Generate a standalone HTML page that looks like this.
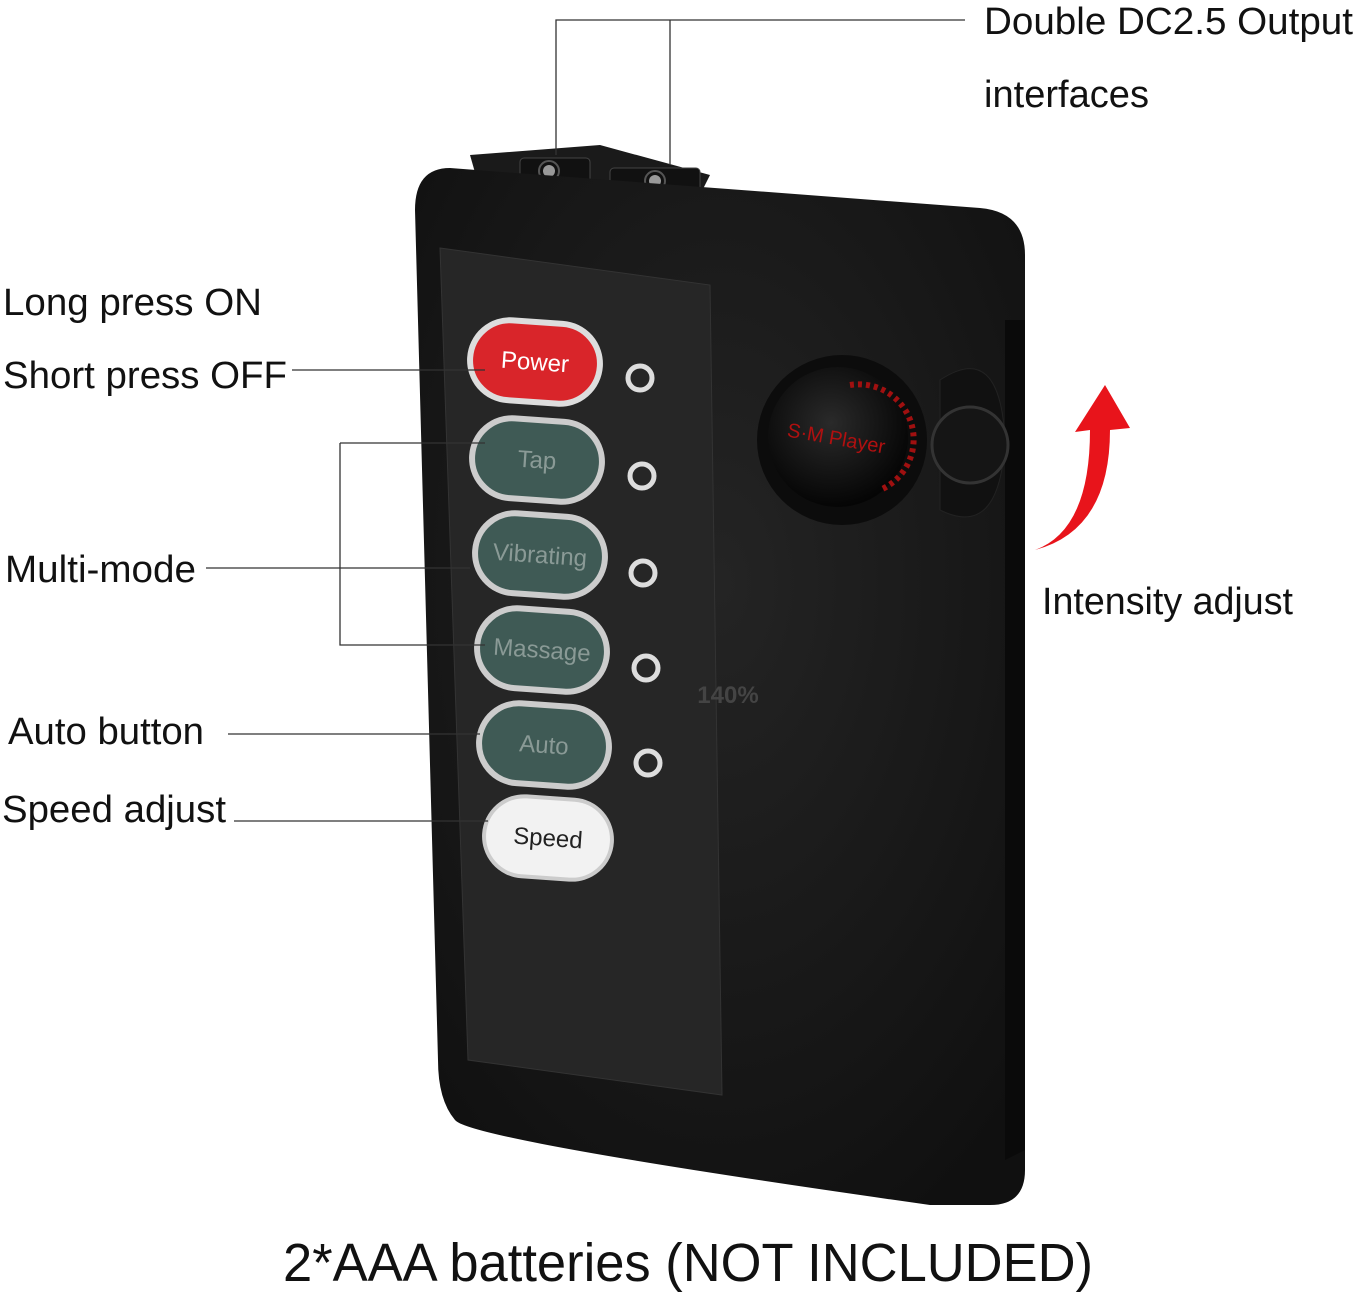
<!DOCTYPE html>
<html><head><meta charset="utf-8">
<style>
html,body{margin:0;padding:0;background:#fff;width:1357px;height:1295px;overflow:hidden}
svg{display:block}
text{font-family:"Liberation Sans",sans-serif}
</style></head><body>
<svg width="1357" height="1295" viewBox="0 0 1357 1295" xmlns="http://www.w3.org/2000/svg">
<defs>
<radialGradient id="body" cx="0.5" cy="0.4" r="0.7">
<stop offset="0" stop-color="#242424"/><stop offset="1" stop-color="#101010"/>
</radialGradient>
<radialGradient id="knob" cx="0.45" cy="0.4" r="0.6">
<stop offset="0" stop-color="#2a2a2a"/><stop offset="1" stop-color="#050505"/>
</radialGradient>
</defs>
<!-- top connectors -->
<path d="M470 155 L600 145 L710 175 L700 195 L480 190 Z" fill="#1a1a1a"/>
<rect x="520" y="158" width="70" height="30" rx="4" fill="#111" stroke="#444"/>
<rect x="610" y="168" width="90" height="30" rx="4" fill="#111" stroke="#444"/>
<circle cx="549" cy="171" r="6" fill="#999"/><circle cx="655" cy="181" r="6" fill="#999"/>
<circle cx="549" cy="171" r="10" fill="none" stroke="#555" stroke-width="2"/><circle cx="655" cy="181" r="10" fill="none" stroke="#555" stroke-width="2"/>
<!-- body -->
<path d="M450 168 L980 208 Q1025 212 1025 255 L1025 1170 Q1025 1205 990 1205 L930 1205 Q470 1140 455 1120 Q438 1100 438 1060 L415 210 Q415 168 450 168 Z" fill="url(#body)"/>
<path d="M1005 320 L1025 320 L1025 1150 L1005 1160 Z" fill="#0a0a0a"/>
<!-- panel -->
<path d="M440 248 L710 285 L722 1095 L468 1060 Z" fill="#262626" stroke="#333"/>
<!-- buttons -->
<g font-size="24" text-anchor="middle">
<g transform="rotate(4 535 362)"><rect x="470" y="322" width="130" height="80" rx="40" fill="#d9252a" stroke="#ddd" stroke-width="6"/><text x="535" y="370" fill="#fff">Power</text></g>
<g transform="rotate(4 537 460)"><rect x="472" y="420" width="130" height="80" rx="40" fill="#3f5a55" stroke="#ccc" stroke-width="6"/><text x="537" y="468" fill="#8a9a96">Tap</text></g>
<g transform="rotate(4 540 555)"><rect x="475" y="515" width="130" height="80" rx="40" fill="#3f5a55" stroke="#ccc" stroke-width="6"/><text x="540" y="563" fill="#8a9a96">Vibrating</text></g>
<g transform="rotate(4 542 650)"><rect x="477" y="610" width="130" height="80" rx="40" fill="#3f5a55" stroke="#ccc" stroke-width="6"/><text x="542" y="658" fill="#8a9a96">Massage</text></g>
<g transform="rotate(4 544 745)"><rect x="479" y="705" width="130" height="80" rx="40" fill="#3f5a55" stroke="#ccc" stroke-width="6"/><text x="544" y="753" fill="#8a9a96">Auto</text></g>
<g transform="rotate(4 548 838)"><rect x="484" y="798" width="128" height="80" rx="40" fill="#f2f2f2" stroke="#ccc" stroke-width="4"/><text x="548" y="846" fill="#222">Speed</text></g>
</g>
<g fill="none" stroke="#ddd" stroke-width="5">
<circle cx="640" cy="378" r="12"/><circle cx="642" cy="476" r="12"/><circle cx="643" cy="573" r="12"/><circle cx="646" cy="668" r="12"/><circle cx="648" cy="763" r="12"/>
</g>
<text x="728" y="703" font-size="24" font-weight="bold" fill="#444" text-anchor="middle">140%</text>
<!-- knob -->
<path d="M940 380 Q1000 340 1005 440 Q1000 540 940 510 Z" fill="#111" stroke="#222"/>
<circle cx="970" cy="445" r="38" fill="#151515" stroke="#333" stroke-width="3"/>
<circle cx="842" cy="440" r="85" fill="#0c0c0c"/>
<circle cx="838" cy="437" r="70" fill="url(#knob)"/>
<text x="836" y="445" font-size="20" fill="#b01010" text-anchor="middle" transform="rotate(10 836 440)">S·M Player</text>
<path d="M850 385 A55 55 0 0 1 880 490" fill="none" stroke="#a01010" stroke-width="6" stroke-dasharray="4 4"/>
<!-- red arrow -->
<path d="M1035 550 Q1090 530 1090 430 L1075 432 L1105 385 L1130 428 L1110 430 Q1110 530 1035 550 Z" fill="#e8141b"/>
<!-- leader lines -->
<g stroke="#333" stroke-width="1.3" fill="none">
<path d="M556 155 V20 H965"/><path d="M670 165 V20"/>
<path d="M292 370 H485"/>
<path d="M340 443 H485 M340 443 V645 H485"/>
<path d="M206 568 H470"/>
<path d="M228 734 H480"/>
<path d="M234 821 H488"/>
</g>
<g font-size="38" fill="#111">
<text x="984" y="34" textLength="369" lengthAdjust="spacingAndGlyphs">Double DC2.5 Output</text>
<text x="984" y="107" textLength="165" lengthAdjust="spacingAndGlyphs">interfaces</text>
<text x="3" y="315" textLength="259" lengthAdjust="spacingAndGlyphs">Long press ON</text>
<text x="3" y="388" textLength="284" lengthAdjust="spacingAndGlyphs">Short press OFF</text>
<text x="5" y="582" textLength="191" lengthAdjust="spacingAndGlyphs">Multi-mode</text>
<text x="8" y="744" textLength="196" lengthAdjust="spacingAndGlyphs">Auto button</text>
<text x="2" y="822" textLength="224" lengthAdjust="spacingAndGlyphs">Speed adjust</text>
<text x="1042" y="614" textLength="251" lengthAdjust="spacingAndGlyphs">Intensity adjust</text>
</g>
<text x="283" y="1281" font-size="54" fill="#111" textLength="810" lengthAdjust="spacingAndGlyphs">2*AAA batteries (NOT INCLUDED)</text>
</svg>
</body></html>
